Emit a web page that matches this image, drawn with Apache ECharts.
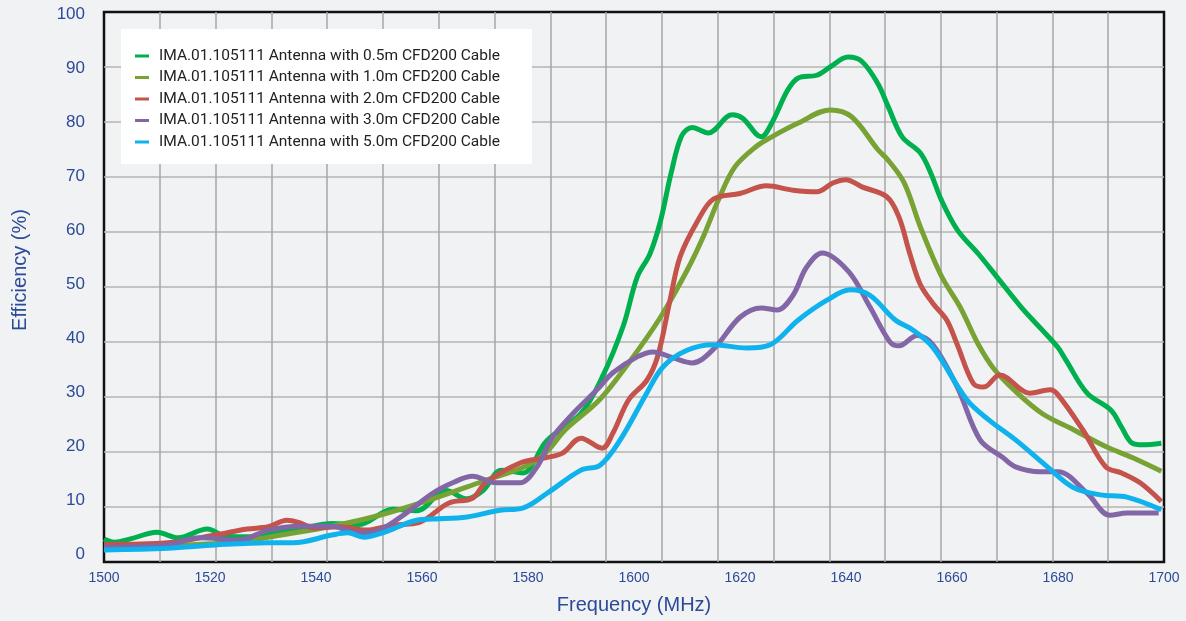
<!DOCTYPE html>
<html>
<head>
<meta charset="utf-8">
<script src="https://cdn.jsdelivr.net/npm/echarts@6/dist/echarts.min.js"></script>
<style>
  html, body { margin: 0; padding: 0; background: #f1f2f4; }
  #chart { width: 1186px; height: 621px; }
</style>
</head>
<body>
<div id="chart"></div>
<script>
// series names
var names = [
  'IMA.01.105111 Antenna with 0.5m CFD200 Cable',
  'IMA.01.105111 Antenna with 1.0m CFD200 Cable',
  'IMA.01.105111 Antenna with 2.0m CFD200 Cable',
  'IMA.01.105111 Antenna with 3.0m CFD200 Cable',
  'IMA.01.105111 Antenna with 5.0m CFD200 Cable'
];
var colors = ['#00b04f', '#78a234', '#c4534b', '#8266a6', '#0fb2ec'];

// y tick labels (printed a little off the grid lines in the original)
var yTickLabels = [0, 10, 20, 30, 40, 50, 60, 70, 80, 90, 100];

// 0.5m cable
var freq05 = [1500, 1502, 1505, 1510, 1514, 1519.5, 1523, 1527, 1532, 1537, 1543, 1548, 1554.5, 1559, 1564.5, 1568.5, 1571.5, 1575, 1579, 1583.5, 1590, 1594, 1598, 1600.6, 1603, 1605, 1607, 1609, 1611, 1614, 1618.5, 1620.5, 1624, 1626, 1629, 1631, 1634.5, 1637, 1640.4, 1643, 1646, 1648, 1650.6, 1654, 1656, 1658, 1661, 1665, 1668.5, 1673, 1677, 1680, 1681.5, 1685.5, 1690, 1692, 1694, 1696, 1699.5];
var eff05 = [4.2, 3.6, 4.2, 5.4, 4.4, 6.0, 4.7, 4.6, 5.2, 6.0, 7.0, 6.8, 9.6, 9.3, 13, 11.5, 13, 16.7, 16.2, 22, 27, 33.6, 43, 51.8, 56, 62, 70.7, 77.5, 79, 78, 81.3, 80.7, 77.3, 79.8, 85.8, 88, 88.5, 90, 91.8, 91, 87, 82.7, 77.3, 74.4, 70.7, 65.8, 60.4, 56, 51.8, 46.4, 42.2, 39, 36.7, 30.7, 27.6, 24.5, 21.6, 21.3, 21.6];

// 1.0m cable
var freq10 = [1500, 1510, 1520, 1527, 1531, 1543, 1552, 1561.5, 1571, 1580, 1583.5, 1587, 1593.5, 1599, 1605, 1610, 1613, 1616, 1619, 1623, 1626, 1631, 1637, 1641, 1646, 1648, 1651, 1654, 1658, 1661.5, 1665, 1668, 1672, 1677, 1683, 1689, 1694, 1699.5];
var eff10 = [2.5, 2.8, 3.3, 3.8, 4.5, 6.5, 8.5, 11.3, 14.5, 17.6, 20, 24, 29.5, 36.2, 44.5, 53, 59, 66, 71.8, 75.5, 77.3, 79.8, 82.2, 81, 75, 73, 68.9, 61, 52, 46.4, 39.5, 35, 31, 27, 24, 21, 19, 16.5];

// 2.0m cable
var freq20 = [1500, 1512, 1521, 1527, 1531, 1534.5, 1537, 1539.5, 1544.5, 1549.5, 1554.5, 1559.5, 1565, 1569.5, 1572, 1578.5, 1583.5, 1586.5, 1590, 1594, 1596, 1599, 1602.4, 1604.5, 1606.8, 1608.7, 1612, 1615, 1620, 1625, 1630, 1634.5, 1637.5, 1640, 1643, 1647.7, 1650, 1652, 1654, 1656.4, 1659, 1661, 1664, 1666, 1669, 1674.7, 1678.5, 1680, 1684.7, 1689, 1692, 1695.5, 1699.5];
var eff20 = [3.2, 3.5, 4.9, 6.0, 6.4, 7.6, 7.1, 6.2, 6.4, 5.8, 6.7, 7.2, 10.7, 11.6, 14.4, 18, 19, 19.8, 22.5, 20.7, 23.4, 29.5, 33, 37.5, 47.6, 55.5, 62, 66, 67, 68.4, 67.6, 67.3, 68.9, 69.5, 68.2, 66.4, 62.7, 56.2, 50.5, 47, 44, 39.5, 32.5, 31.8, 34, 30.7, 31.3, 30.4, 24, 17.3, 16.2, 14.4, 11];

// 3.0m cable
var freq30 = [1500, 1512, 1518, 1525.5, 1531, 1537, 1543, 1547.7, 1551, 1556, 1562, 1566, 1569.5, 1574, 1578.5, 1581.7, 1584.5, 1588.5, 1593, 1596, 1600.6, 1603.6, 1607.4, 1611, 1615, 1620, 1624, 1627, 1630, 1632.5, 1635.5, 1640.5, 1644.5, 1648.3, 1650, 1653.4, 1656.4, 1661, 1665.3, 1669.6, 1672, 1676.6, 1680, 1685.5, 1689.8, 1693, 1699];
var eff30 = [2.7, 3.1, 4.4, 4.0, 5.8, 6.5, 6.5, 5.3, 5.5, 8.2, 12.5, 14.5, 15.6, 14.4, 14.4, 17.3, 22.5, 27, 31.3, 34.4, 37.3, 38.2, 37.1, 36.2, 38.7, 44.5, 46.2, 45.8, 48.5, 53.5, 56.2, 52.8, 46.4, 40, 39.3, 41.2, 39.5, 31.8, 22.2, 19, 17.3, 16.4, 16.4, 12.5, 8.5, 8.9, 8.9];

// 5.0m cable
var freq50 = [1500, 1512, 1521, 1531, 1535.7, 1543, 1546, 1549, 1552.6, 1559, 1562, 1568.5, 1574.7, 1579, 1583.6, 1590, 1593.6, 1597.4, 1602, 1605.5, 1610, 1615, 1621.3, 1625.7, 1631, 1636.4, 1640.8, 1644.5, 1649.3, 1652.6, 1656.4, 1662.8, 1667, 1672, 1678, 1682.8, 1688, 1693, 1699.5];
var eff50 = [2.2, 2.5, 3.1, 3.5, 3.5, 4.9, 5.3, 4.5, 5.3, 7.6, 7.8, 8.2, 9.4, 9.8, 12.5, 16.7, 17.6, 22.2, 30, 35.5, 38.5, 39.5, 38.9, 39.5, 44, 47.6, 49.5, 48.5, 44, 42.2, 39, 29.5, 25.8, 22.2, 17.3, 13.6, 12.2, 11.8, 9.5];

var freqs = [freq05, freq10, freq20, freq30, freq50];
var effs = [eff05, eff10, eff20, eff30, eff50];

var labelColor = '#2c4a98';
var axisFont = 'Liberation Sans, Arial, sans-serif';

var myChart = echarts.init(document.getElementById('chart'));

var series = names.map(function(name, k) {
  return {
    name: name,
    type: 'line',
    smooth: 0.35,
    showSymbol: false,
    xAxisIndex: 0,
    yAxisIndex: 0,
    lineStyle: { width: 5, color: colors[k] },
    itemStyle: { color: colors[k] },
    data: freqs[k].map(function(f, i) { return [f, effs[k][i]]; })
  };
});

myChart.setOption({
  backgroundColor: '#f1f2f4',
  animation: false,
  grid: {
    left: 104,
    right: 22,
    top: 12,
    bottom: 59,
    show: true,
    backgroundColor: '#f1f2f4',
    borderColor: '#111',
    borderWidth: 2.5
  },
  legend: {
    orient: 'vertical',
    left: 121,
    top: 29,
    backgroundColor: '#fff',
    padding: [19, 32, 14, 14],
    itemGap: 5.5,
    itemWidth: 14,
    itemHeight: 3,
    icon: 'rect',
    textStyle: {
      fontFamily: 'Roboto',
      fontSize: 15.5,
      lineHeight: 16,
      color: '#222',
      padding: [0, 0, 0, 5]
    },
    data: names
  },
  xAxis: [{
    type: 'value',
    min: 1500,
    max: 1700,
    interval: 20,
    name: 'Frequency (MHz)',
    nameLocation: 'middle',
    nameGap: 33,
    nameTextStyle: { fontFamily: axisFont, fontSize: 20, color: labelColor },
    axisLine: { show: false },
    axisTick: { show: false },
    splitLine: { show: false },
    axisLabel: {
      fontFamily: axisFont, fontSize: 14, color: labelColor, margin: 9,
      formatter: function(v) { return String(v); }
    }
  }, {
    // decorative vertical grid, 19 equal divisions
    type: 'value',
    position: 'top',
    min: 0,
    max: 19,
    interval: 1,
    axisLine: { show: false },
    axisTick: { show: false },
    axisLabel: { show: false },
    splitLine: { show: true, showMinLine: false, showMaxLine: false, lineStyle: { color: '#a6a6a6', width: 1.5 } }
  }],
  yAxis: [{
    type: 'value',
    min: 0,
    max: 100,
    interval: 10,
    name: 'Efficiency (%)',
    nameLocation: 'middle',
    nameGap: 74,
    nameTextStyle: { fontFamily: axisFont, fontSize: 20, color: labelColor, padding: [0, 0, 0, 34] },
    axisLine: { show: false },
    axisTick: { show: false },
    axisLabel: { show: false },
    splitLine: { showMinLine: false, showMaxLine: false, lineStyle: { color: '#b4b4b4', width: 1.5 } }
  }, {
    // label-only axis: tick text sits slightly off the grid lines
    type: 'value',
    position: 'left',
    min: -1.5,
    max: 100.5,
    axisLine: { show: false },
    axisTick: { show: false },
    splitLine: { show: false },
    axisLabel: {
      fontFamily: axisFont, fontSize: 17, color: labelColor, margin: 19,
      customValues: yTickLabels
    }
  }],
  series: series
});
</script>
</body>
</html>
